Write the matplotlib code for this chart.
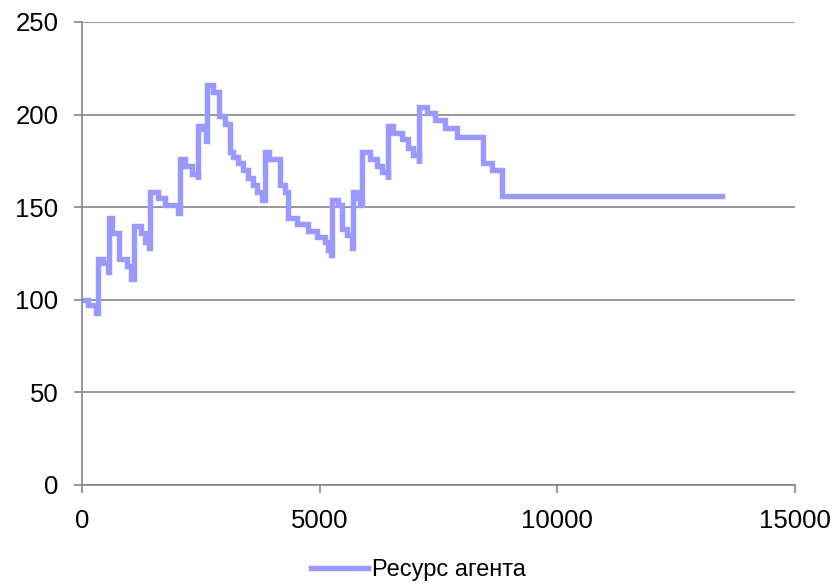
import matplotlib
matplotlib.use("Agg")
import matplotlib.pyplot as plt

plt.rcParams['font.family'] = ['Liberation Sans', 'DejaVu Sans']

# step points (time, resource)
time = [0, 130, 290, 340, 440, 540, 560, 620, 780, 950, 1020, 1100, 1250, 1320, 1400,
        1430, 1600, 1750, 2020, 2060, 2170, 2310, 2440, 2450, 2550, 2610, 2630, 2760,
        2880, 3000, 3110, 3180, 3280, 3390, 3490, 3600, 3690, 3790, 3860, 3930, 4170,
        4280, 4340, 4520, 4750, 4940, 5110, 5180, 5240, 5260, 5390, 5470, 5580, 5690,
        5700, 5790, 5850, 5900, 6060, 6210, 6310, 6440, 6445, 6540, 6730, 6860, 6960,
        7090, 7095, 7260, 7430, 7640, 7890, 8440, 8630, 8840, 13470]
resource = [100, 97, 93, 122, 120, 115, 144, 136, 122, 118, 111, 140, 136, 131, 128,
            158, 155, 151, 147, 176, 172, 168, 165, 194, 192, 186, 216, 212,
            199, 195, 180, 177, 174, 170, 166, 162, 158, 154, 180, 176, 162,
            158, 144, 141, 137, 134, 131, 127, 124, 154, 151, 138, 135, 128,
            158, 155, 151, 180, 176, 172, 169, 165, 194, 190, 187, 182, 178,
            174, 204, 201, 197, 193, 188, 174, 170, 156, 156]

x_ticks = [0, 5000, 10000, 15000]
y_ticks = [0, 50, 100, 150, 200, 250]
series_name = 'Ресурс агента'

line_color = '#9999FF'
grid_color = '#868686'

fig = plt.figure(figsize=(8.32, 5.86), dpi=100)
ax = fig.add_axes([0.0986, 0.1724, 0.8569, 0.7901])

ax.plot(time, resource, drawstyle='steps-post', color=line_color, linewidth=3.9,
        solid_joinstyle='miter', label=series_name)

ax.set_xlim(0, 15000)
ax.set_ylim(0, 250)
ax.set_xticks(x_ticks)
ax.set_yticks(y_ticks)

ax.yaxis.grid(True, color=grid_color, linewidth=1.2)
ax.set_axisbelow(True)

for side in ['top', 'right']:
    ax.spines[side].set_visible(False)
for side in ['left', 'bottom']:
    ax.spines[side].set_color(grid_color)
    ax.spines[side].set_linewidth(1.2)

ax.tick_params(axis='both', direction='out', length=6, width=1.2, color=grid_color,
               labelsize=18.5, pad=11, labelcolor='black')

# legend sits centred under the plot, near the bottom edge
fig.legend(loc='center', bbox_to_anchor=(0.503, 0.027), frameon=False,
           fontsize=17, handlelength=2.4, handletextpad=0.15)

fig.savefig('out.png', dpi=100)
